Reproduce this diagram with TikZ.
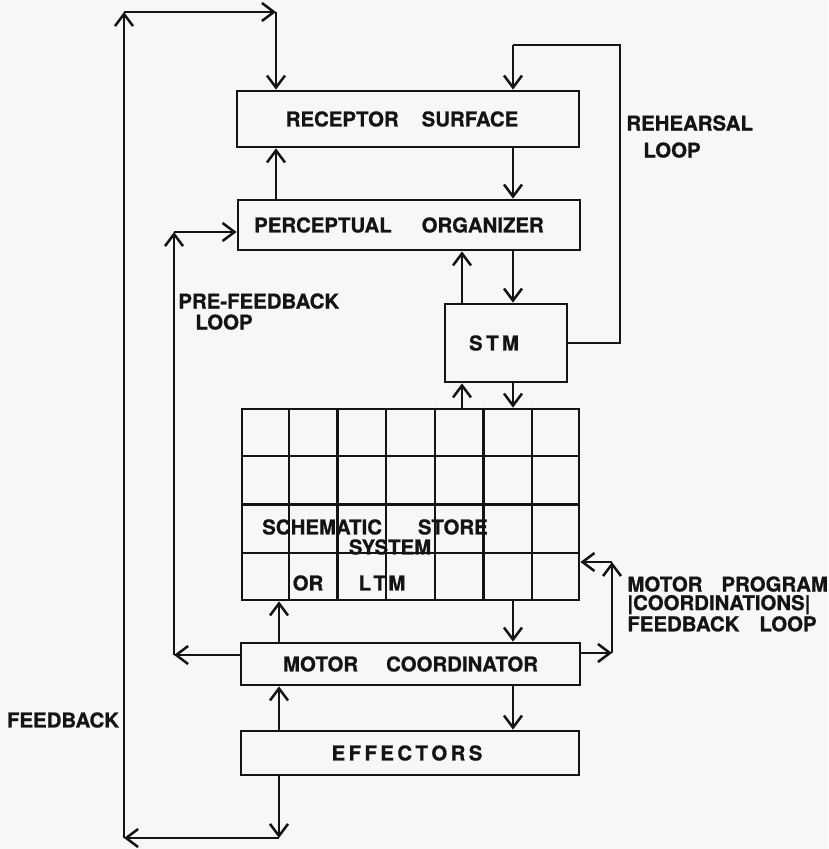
\documentclass[tikz,border=0pt]{standalone}
\usepackage{fontspec}
\setmainfont{TeX Gyre Heros}[BoldFeatures={FakeBold=0.8}]
\usepackage{tikz}
\usetikzlibrary{arrows.meta,calc}
\definecolor{pgPaper}{HTML}{F7F7F7}
\definecolor{pgInk}{HTML}{141414}
\newcommand{\lblfont}[1]{\fontsize{10.2pt}{#1}\selectfont\bfseries}

\begin{document}
\begin{tikzpicture}[x=0.5pt,y=-0.5pt,
 box/.style={draw=pgInk,line width=1.4pt,inner sep=0pt,text=pgInk,font=\lblfont{10.5pt}},
 lbl/.style={inner sep=0pt,text=pgInk,font=\lblfont{#1}},
 lbl/.default=10.5pt,
 cell/.style={draw=pgInk,line width=1.2pt},
 line/.style={draw=pgInk,line width=1.25pt},
 arr/.style={line,-{Straight Barb[length=6pt,width=9pt,line width=1.25pt]}}]
\fill[pgPaper] (0,0) rectangle (828,849);
\useasboundingbox (0,0) rectangle (828,849);
\coordinate (lc) at (276,0);
\coordinate (lc2) at (279,0);
\coordinate (mc) at (462,0);
\coordinate (rc) at (513,0);
\node[box,minimum width=171pt,minimum height=28pt] (rec) at (408,119) {RECEPTOR\hspace{11.5pt}SURFACE\hspace*{6pt}};
\node[box,minimum width=171pt,minimum height=25pt] (perc) at (409,225) {PERCEPTUAL\hspace{15pt}ORGANIZER\hspace*{10pt}};
\node[box,minimum width=61pt,minimum height=39pt] (stm) at (506,343) {S\,T\,M\hspace*{12pt}};
\node[box,minimum width=168.5pt,minimum height=95.5pt] (grid) at (410.5,504.5) {};
\node[box,minimum width=169.5pt,minimum height=21pt] (mot) at (410.5,664) {MOTOR\hspace{14pt}COORDINATOR};
\node[box,minimum width=169pt,minimum height=22pt] (eff) at (410,753) {E\,F\,F\,E\,C\,T\,O\,R\,S\hspace*{3pt}};
\foreach \i in {1,...,6}
  \draw[cell] ($(grid.north west)!\i/7!(grid.north east)$) -- ($(grid.south west)!\i/7!(grid.south east)$);
\foreach \j in {1,2,3}
  \draw[cell] ($(grid.north west)!\j/4!(grid.south west)$) -- ($(grid.north east)!\j/4!(grid.south east)$);
\node[lbl] (schem) at (375,527) {SCHEMATIC\hspace{18pt}STORE};
\node[lbl] (sys) at (390,547) {SYSTEM};
\node[lbl] (or) at (308,583) {OR};
\node[lbl] (ltm) at (382,583) {L\kern1.2pt T\kern1.2pt M};
\node[lbl=13.5pt,anchor=north west,align=left] (reh) at (626,115) {REHEARSAL\\\hspace*{8.5pt}LOOP};
\node[lbl=10.5pt,anchor=north west,align=left] (pre) at (178,293) {PRE-FEEDBACK\\\hspace*{8.5pt}LOOP};
\node[lbl=9.3pt,anchor=north west,align=left] (mprog) at (627,576) {MOTOR\hspace{9.5pt}PROGRAM\\\textbar COORDINATIONS\textbar\\FEEDBACK\hspace{10pt}LOOP};
\node[lbl] (fb) at (63,720) {FEEDBACK};
\coordinate (fbTL) at (124,12);
\coordinate (fbTR) at (276,12);
\coordinate (fbBL) at (124,838);
\coordinate (fbBR) at (279,838);
\draw[arr] (fbBL) -- (fbTL);
\draw[arr] (fbTL) -- (fbTR);
\draw[arr] (fbTR) -- (fbTR |- rec.north);
\draw[arr] (fbBR |- eff.south) -- (fbBR);
\draw[arr] (fbBR) -- (fbBL);
\coordinate (rhTR) at (620,45);
\coordinate (rhTL) at (513,45);
\draw[line] (stm.east) -| (rhTR) -- (rhTL);
\draw[arr] (rhTL) -- (rhTL |- rec.north);
\draw[arr] (lc |- perc.north) -- (lc |- rec.south);
\draw[arr] (rc |- rec.south) -- (rc |- perc.north);
\draw[arr] (mc |- stm.north) -- (mc |- perc.south);
\draw[arr] (rc |- perc.south) -- (rc |- stm.north);
\draw[arr] (mc |- grid.north) -- (mc |- stm.south);
\draw[arr] (rc |- stm.south) -- (rc |- grid.north);
\draw[arr] (lc2 |- mot.north) -- (lc2 |- grid.south);
\draw[arr] (rc |- grid.south) -- (rc |- mot.north);
\draw[arr] (lc2 |- eff.north) -- (lc2 |- mot.south);
\draw[arr] (rc |- mot.south) -- (rc |- eff.north);
\coordinate (pfT) at (174,232);
\coordinate (pfB) at (174,655);
\draw[arr] (pfB -| mot.west) -- (pfB);
\draw[arr] (pfB) -- (pfT);
\draw[arr] (pfT) -- (pfT -| perc.west);
\coordinate (mpT) at (612,562);
\coordinate (mpB) at (612,653);
\draw[arr] (mpB -| mot.east) -- (mpB);
\draw[arr] (mpB) -- (mpT);
\draw[arr] (mpT) -- (mpT -| grid.east);
\end{tikzpicture}
\end{document}
